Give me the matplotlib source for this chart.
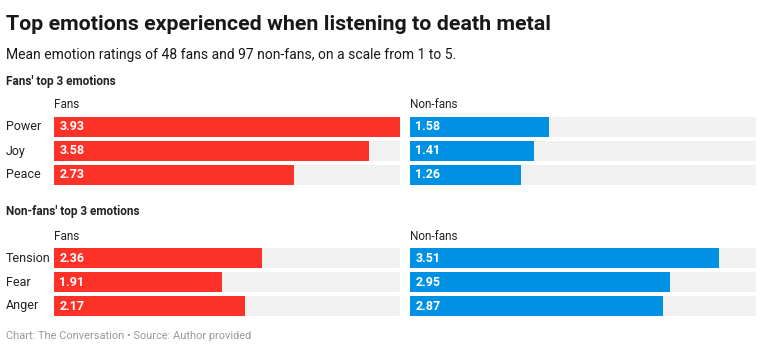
import matplotlib.pyplot as plt

plt.rcParams['font.family'] = ['Roboto', 'DejaVu Sans']

# data
top_emotions = ['Power', 'Joy', 'Peace']
top_fans = [3.93, 3.58, 2.73]
top_nonfans = [1.58, 1.41, 1.26]

bottom_emotions = ['Tension', 'Fear', 'Anger']
bottom_fans = [2.36, 1.91, 2.17]
bottom_nonfans = [3.51, 2.95, 2.87]

max_val = 3.93
red = '#fc3128'
blue = '#0091e4'
track = '#f1f1f1'

W, H = 772, 362
fig = plt.figure(figsize=(W / 100, H / 100), dpi=100)


def px_axes(x0, y0, w, h):
    # position given in pixels from the top-left corner
    return fig.add_axes([x0 / W, 1 - (y0 + h) / H, w / W, h / H])


def panel(x0, y0, vals, color, labels=None):
    ax = px_axes(x0, y0, 346, 68)
    ys = range(len(vals))
    ax.barh(ys, [max_val] * len(vals), height=20 / 24, color=track)
    ax.barh(ys, vals, height=20 / 24, color=color)
    for y, v in zip(ys, vals):
        ax.text(0.06, y, f'{v:.2f}', color='white', fontsize=9, fontweight='bold',
                va='center', ha='left')
    if labels:
        for y, lab in zip(ys, labels):
            ax.text(-48 / 346 * max_val, y, lab, fontsize=9, color='#222222',
                    va='center', ha='left')
    ax.set_xlim(0, max_val)
    ax.set_ylim(len(vals) - 0.5 - 2 / 24, -0.5 + 2 / 24)
    ax.axis('off')
    return ax


panel(54, 117, top_fans, red, top_emotions)
panel(410, 117, top_nonfans, blue)
panel(54, 248, bottom_fans, red, bottom_emotions)
panel(410, 248, bottom_nonfans, blue)


def ftext(x, y, s, **kw):
    fig.text(x / W, 1 - y / H, s, **kw)


ftext(6, 24, 'Top emotions experienced when listening to death metal',
      fontsize=15.4, fontweight='bold', color='#181818', va='center')
ftext(6, 55, 'Mean emotion ratings of 48 fans and 97 non-fans, on a scale from 1 to 5.',
      fontsize=10, color='#181818', va='center')
ftext(6, 81, "Fans' top 3 emotions", fontsize=8.5, fontweight='bold', color='#222222', va='center')
ftext(6, 212, "Non-fans' top 3 emotions", fontsize=8.5, fontweight='bold', color='#222222', va='center')
ftext(54, 104, 'Fans', fontsize=8.5, color='#222222', va='center')
ftext(410, 104, 'Non-fans', fontsize=8.5, color='#222222', va='center')
ftext(54, 236, 'Fans', fontsize=8.5, color='#222222', va='center')
ftext(410, 236, 'Non-fans', fontsize=8.5, color='#222222', va='center')
ftext(6, 336, 'Chart: The Conversation \u2022 Source: Author provided',
      fontsize=7.9, color='#999999', va='center')

fig.savefig('out.png', dpi=100)
